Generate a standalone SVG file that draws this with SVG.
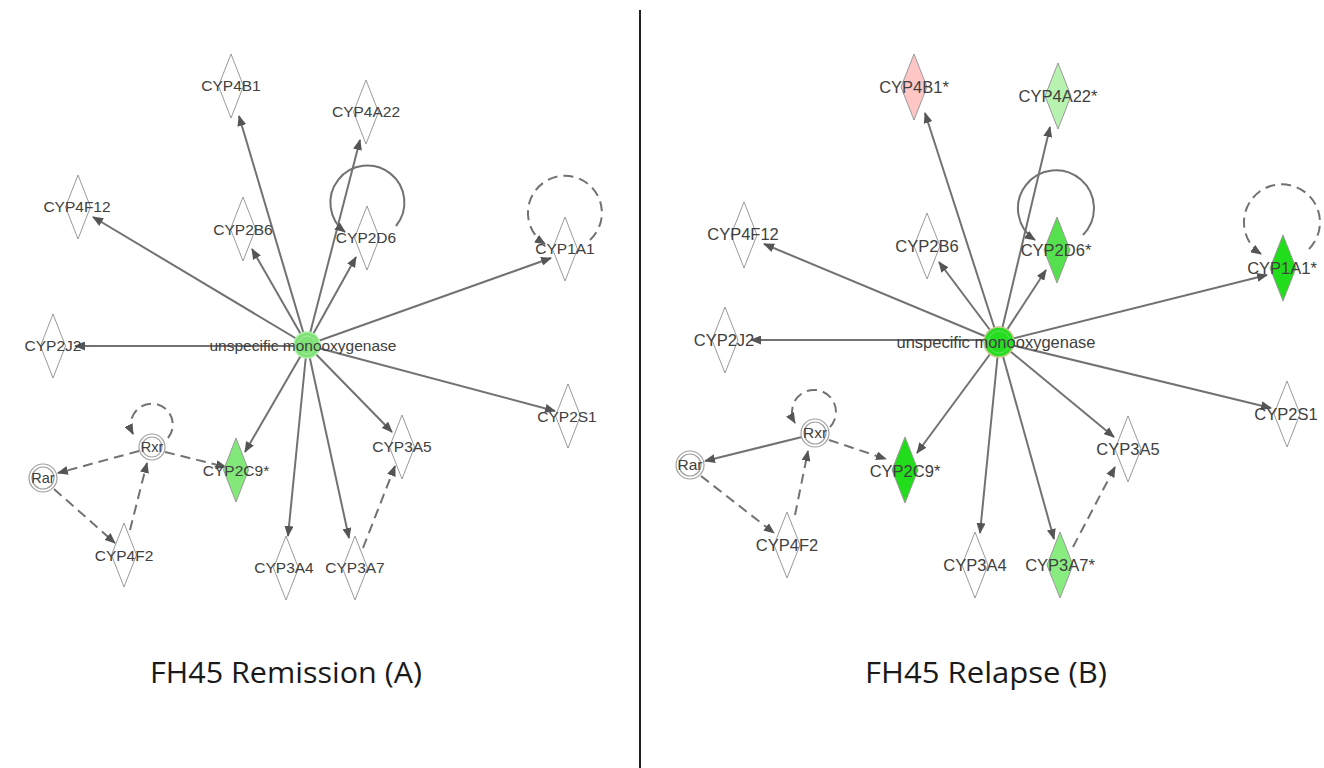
<svg xmlns="http://www.w3.org/2000/svg" width="1324" height="768" viewBox="0 0 1324 768">
<defs>
<marker id="ah" markerUnits="userSpaceOnUse" markerWidth="11" markerHeight="9" refX="10" refY="4.5" orient="auto"><path d="M0,0 L11,4.5 L0,9 z" fill="#555"/></marker>
<style>
.e{stroke:#727272;stroke-width:2;fill:none;marker-end:url(#ah)}
.d{stroke-dasharray:10 6}
.dm{stroke:#9a9a9a;stroke-width:1;fill:#fff}
.lb{font-family:"Liberation Sans",Arial,sans-serif;fill:#404040;text-anchor:middle}
.L{font-size:15.5px}
.R{font-size:16.5px}
.ci{stroke:#a0a0a0;stroke-width:1.2;fill:#fff}
.ti{font-family:"Open Sans","Noto Sans",sans-serif;font-size:29px;fill:#1a1a1a;text-anchor:middle}
</style>
</defs>
<rect width="1324" height="768" fill="#fff"/>
<line x1="640" y1="10" x2="640" y2="768" stroke="#222" stroke-width="2"/>

<g id="connectors">
<!-- left -->
<line class="e" x1="307" y1="345" x2="239" y2="116"/>
<line class="e" x1="307" y1="345" x2="360" y2="140"/>
<line class="e" x1="307" y1="345" x2="93" y2="217"/>
<line class="e" x1="307" y1="345" x2="252" y2="249"/>
<line class="e" x1="307" y1="345" x2="356" y2="257"/>
<line class="e" x1="307" y1="345" x2="551" y2="258"/>
<line class="e" x1="307" y1="346" x2="75" y2="346"/>
<line class="e" x1="307" y1="345" x2="555" y2="411"/>
<line class="e" x1="307" y1="345" x2="392" y2="432"/>
<line class="e" x1="307" y1="345" x2="245" y2="452"/>
<line class="e" x1="307" y1="345" x2="288" y2="536"/>
<line class="e" x1="307" y1="345" x2="349" y2="538"/>
<path class="e" d="M396,226 A37,37 0 1 0 345,232"/>
<path class="e d" d="M590,240 A37,37 0 1 0 545,244"/>
<path class="e d" d="M168,438 A21,21 0 1 0 133,434"/>
<line class="e d" x1="363" y1="548" x2="395" y2="466"/>
<line class="e d" x1="139" y1="451" x2="58" y2="473"/>
<line class="e d" x1="165" y1="452" x2="226" y2="467"/>
<line class="e d" x1="54" y1="489" x2="115" y2="543"/>
<line class="e d" x1="130" y1="530" x2="147" y2="463"/>
<!-- right -->
<line class="e" x1="999" y1="342" x2="925" y2="113"/>
<line class="e" x1="999" y1="342" x2="1050" y2="127"/>
<line class="e" x1="999" y1="342" x2="764" y2="244"/>
<line class="e" x1="999" y1="342" x2="939" y2="262"/>
<line class="e" x1="999" y1="342" x2="1046" y2="270"/>
<line class="e" x1="999" y1="342" x2="1267" y2="275"/>
<line class="e" x1="999" y1="340" x2="751" y2="340"/>
<line class="e" x1="999" y1="342" x2="1271" y2="408"/>
<line class="e" x1="999" y1="342" x2="1114" y2="437"/>
<line class="e" x1="999" y1="342" x2="917" y2="453"/>
<line class="e" x1="999" y1="342" x2="980" y2="533"/>
<line class="e" x1="999" y1="342" x2="1054" y2="539"/>
<path class="e" d="M1083,235 A38,38 0 1 0 1035,240"/>
<path class="e d" d="M1309,249 A38,38 0 1 0 1261,254"/>
<path class="e d" d="M830,427 A22,22 0 1 0 795,423"/>
<line class="e d" x1="1073" y1="547" x2="1115" y2="467"/>
<line class="e" x1="802" y1="437" x2="705" y2="461"/>
<line class="e d" x1="829" y1="440" x2="886" y2="459"/>
<line class="e d" x1="701" y1="476" x2="774" y2="533"/>
<line class="e d" x1="795" y1="515" x2="808" y2="451"/>
</g>

<!-- left nodes -->
<g id="L-CYP4B1"><path class="dm" d="M231,54 L243.5,86 L231,118 L218.5,86 z"/><text class="lb L" x="231" y="91">CYP4B1</text></g>
<g id="L-CYP4A22"><path class="dm" d="M366,80 L378.5,112 L366,144 L353.5,112 z"/><text class="lb L" x="366" y="117">CYP4A22</text></g>
<g id="L-CYP4F12"><path class="dm" d="M78,175 L90.5,207 L78,239 L65.5,207 z"/><text class="lb L" x="77" y="212">CYP4F12</text></g>
<g id="L-CYP2B6"><path class="dm" d="M243,197 L255.5,229 L243,261 L230.5,229 z"/><text class="lb L" x="243" y="235">CYP2B6</text></g>
<g id="L-CYP2D6"><path class="dm" d="M367,206 L379.5,238 L367,270 L354.5,238 z"/><text class="lb L" x="366" y="243">CYP2D6</text></g>
<g id="L-CYP1A1"><path class="dm" d="M565,217 L577.5,249 L565,281 L552.5,249 z"/><text class="lb L" x="565" y="254">CYP1A1</text></g>
<g id="L-CYP2J2"><path class="dm" d="M53,314 L65.5,346 L53,378 L40.5,346 z"/><text class="lb L" x="53" y="351">CYP2J2</text></g>
<g id="L-CYP2S1"><path class="dm" d="M568,384 L580.5,416 L568,448 L555.5,416 z"/><text class="lb L" x="567" y="422">CYP2S1</text></g>
<g id="L-CYP3A5"><path class="dm" d="M402,415 L414.5,447 L402,479 L389.5,447 z"/><text class="lb L" x="402" y="452">CYP3A5</text></g>
<g id="L-CYP2C9"><path class="dm" d="M236,438 L248.5,470 L236,502 L223.5,470 z" style="fill:#82e87a"/><text class="lb L" x="236" y="476">CYP2C9*</text></g>
<g id="L-CYP4F2"><path class="dm" d="M124,523 L136.5,555 L124,587 L111.5,555 z"/><text class="lb L" x="124" y="561">CYP4F2</text></g>
<g id="L-CYP3A4"><path class="dm" d="M286,536 L298.5,568 L286,600 L273.5,568 z"/><text class="lb L" x="284" y="573">CYP3A4</text></g>
<g id="L-CYP3A7"><path class="dm" d="M355,536 L367.5,568 L355,600 L342.5,568 z"/><text class="lb L" x="355" y="573">CYP3A7</text></g>
<g id="L-Rxr"><circle class="ci" cx="152" cy="447" r="13"/><circle class="ci" cx="152" cy="447" r="10"/><text class="lb" style="font-size:14.5px" x="152" y="452">Rxr</text></g>
<g id="L-Rar"><circle class="ci" cx="43" cy="478" r="14"/><circle class="ci" cx="43" cy="478" r="11"/><text class="lb" style="font-size:14.5px" x="43" y="483">Rar</text></g>
<g id="L-hub"><circle cx="307" cy="345" r="13" fill="#7ee276" stroke="#b2efac" stroke-width="1.5"/><circle cx="307" cy="345" r="9" fill="none" stroke="#a6ec9e" stroke-width="1"/><text class="lb L" x="303" y="351">unspecific monooxygenase</text></g>

<!-- right nodes -->
<g id="R-CYP4B1"><path class="dm" d="M914,54 L927,87 L914,120 L901,87 z" style="fill:#ffc6c6"/><text class="lb R" x="914" y="93">CYP4B1*</text></g>
<g id="R-CYP4A22"><path class="dm" d="M1058,63 L1071,96 L1058,129 L1045,96 z" style="fill:#b8f2b0"/><text class="lb R" x="1058" y="102">CYP4A22*</text></g>
<g id="R-CYP4F12"><path class="dm" d="M744,202 L757,235 L744,268 L731,235 z"/><text class="lb R" x="743" y="240">CYP4F12</text></g>
<g id="R-CYP2B6"><path class="dm" d="M927,213 L940,246 L927,279 L914,246 z"/><text class="lb R" x="927" y="252">CYP2B6</text></g>
<g id="R-CYP2D6"><path class="dm" d="M1057,217 L1070,250 L1057,283 L1044,250 z" style="fill:#55e04e"/><text class="lb R" x="1056" y="256">CYP2D6*</text></g>
<g id="R-CYP1A1"><path class="dm" d="M1283,235 L1296,268 L1283,301 L1270,268 z" style="fill:#22dd1c"/><text class="lb R" x="1282" y="274">CYP1A1*</text></g>
<g id="R-CYP2J2"><path class="dm" d="M725,307 L738,340 L725,373 L712,340 z"/><text class="lb R" x="724" y="346">CYP2J2</text></g>
<g id="R-CYP2S1"><path class="dm" d="M1287,381 L1300,414 L1287,447 L1274,414 z"/><text class="lb R" x="1286" y="420">CYP2S1</text></g>
<g id="R-CYP3A5"><path class="dm" d="M1128,416 L1141,449 L1128,482 L1115,449 z"/><text class="lb R" x="1128" y="455">CYP3A5</text></g>
<g id="R-CYP2C9"><path class="dm" d="M905,437 L918,470 L905,503 L892,470 z" style="fill:#22dd1c"/><text class="lb R" x="905" y="477">CYP2C9*</text></g>
<g id="R-CYP4F2"><path class="dm" d="M787,512 L800,545 L787,578 L774,545 z"/><text class="lb R" x="787" y="551">CYP4F2</text></g>
<g id="R-CYP3A4"><path class="dm" d="M975,532 L988,565 L975,598 L962,565 z"/><text class="lb R" x="975" y="571">CYP3A4</text></g>
<g id="R-CYP3A7"><path class="dm" d="M1060,532 L1073,565 L1060,598 L1047,565 z" style="fill:#88ec80"/><text class="lb R" x="1060" y="571">CYP3A7*</text></g>
<g id="R-Rxr"><circle class="ci" cx="815" cy="433" r="14"/><circle class="ci" cx="815" cy="433" r="11"/><text class="lb" style="font-size:15.5px" x="815" y="438">Rxr</text></g>
<g id="R-Rar"><circle class="ci" cx="690" cy="465" r="14"/><circle class="ci" cx="690" cy="465" r="11"/><text class="lb" style="font-size:15.5px" x="690" y="470">Rar</text></g>
<g id="R-hub"><circle cx="999" cy="342" r="15" fill="#26de20" stroke="#c8c890" stroke-width="1.5"/><circle cx="999" cy="342" r="11" fill="none" stroke="#5ee05a" stroke-width="1"/><text class="lb R" x="996" y="348">unspecific monooxygenase</text></g>

<text class="ti" x="286" y="683" textLength="272" lengthAdjust="spacingAndGlyphs">FH45 Remission (A)</text>
<text class="ti" x="986" y="683" textLength="242" lengthAdjust="spacingAndGlyphs">FH45 Relapse (B)</text>
</svg>
